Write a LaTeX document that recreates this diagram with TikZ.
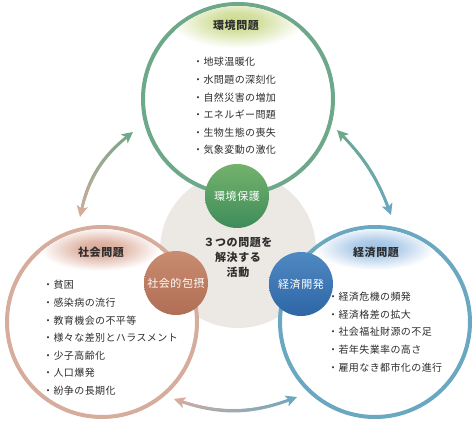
\documentclass[tikz,border=0pt]{standalone}
\usepackage{fontspec}
\usetikzlibrary{arrows.meta,decorations.markings}
\newfontfamily\jp[LetterSpace=5]{Noto Sans CJK JP}
\newfontfamily\jpitem[LetterSpace=4]{Noto Sans CJK JP}

\definecolor{txt}{HTML}{2E2E2E}
\definecolor{envring}{HTML}{6DA88A}
\definecolor{socring}{HTML}{D6AC9C}
\definecolor{ecoring}{HTML}{6AA8C2}
\definecolor{hubgray}{HTML}{ECE9E4}
\definecolor{envblob}{HTML}{C9D98A}
\definecolor{socblob}{HTML}{D9A593}
\definecolor{ecoblob}{HTML}{9CC0E4}
\definecolor{envtop}{HTML}{74B26C}
\definecolor{envbot}{HTML}{3E8C5B}
\definecolor{soctop}{HTML}{C98C70}
\definecolor{socbot}{HTML}{B06E55}
\definecolor{ecotop}{HTML}{4F89C2}
\definecolor{ecobot}{HTML}{2E66A6}

\pgfdeclareradialshading{envpatch}{\pgfpoint{0bp}{0bp}}{color(0bp)=(envblob); color(9bp)=(envblob!80!white); color(25bp)=(white); color(50bp)=(white)}
\pgfdeclareradialshading{socpatch}{\pgfpoint{0bp}{0bp}}{color(0bp)=(socblob); color(9bp)=(socblob!80!white); color(25bp)=(white); color(50bp)=(white)}
\pgfdeclareradialshading{ecopatch}{\pgfpoint{0bp}{0bp}}{color(0bp)=(ecoblob); color(9bp)=(ecoblob!80!white); color(25bp)=(white); color(50bp)=(white)}

\tikzset{
  ring/.style={circle, draw=#1, line width=4pt, fill=white, minimum size=190pt, inner sep=0pt},
  ball/.style 2 args={circle, minimum size=64pt, inner sep=0pt, top color=#1, bottom color=#2,
    text=white, font=\jp\fontsize{11}{13}\selectfont},
  head/.style={inner sep=0pt, text=txt, font=\jp\bfseries\fontsize{11}{13}\selectfont},
  item/.style={anchor=west, inner sep=0pt, text=txt, font=\jpitem\fontsize{10}{12}\selectfont},
  gradarrow/.style 2 args={line width=2.8pt, draw=#1!50!#2,
    arrows={Stealth[length=11pt,width=11pt,inset=2.5pt,color=#1]-Stealth[length=11pt,width=11pt,inset=2.5pt,color=#2]},
    postaction={decorate},
    decoration={markings, mark=between positions 8pt and -8pt step 0.6pt with {%
      \pgfmathtruncatemacro\mixval{100*\pgfkeysvalueof{/pgf/decoration/mark info/distance from start}/\pgfdecoratedpathlength}%
      \fill[#2!\mixval!#1] (0,0) circle (1.4pt);}}}
}

\begin{document}
\begin{tikzpicture}[x=1pt,y=-1pt]
  \useasboundingbox (0,0) rectangle (474,423);

  % centre disc and the three rings
  \node[circle, fill=hubgray, minimum size=156pt, inner sep=0pt] (hub) at (238,250) {};
  \node[ring=envring] (env) at (238,99) {};
  \node[ring=socring] (soc) at (102,322) {};
  \node[ring=ecoring] (eco) at (375,322) {};

  % soft header patches
  \begin{scope}
    \clip (env.center) circle (93pt);
    \shade[shading=envpatch] (237,22) ellipse [x radius=66pt, y radius=26pt];
  \end{scope}
  \begin{scope}
    \clip (soc.center) circle (93pt);
    \shade[shading=socpatch] (100,249) ellipse [x radius=60pt, y radius=22pt];
  \end{scope}
  \begin{scope}
    \clip (eco.center) circle (93pt);
    \shade[shading=ecopatch] (375,248) ellipse [x radius=60pt, y radius=22pt];
  \end{scope}

  \node[head] (envhead) at (236,25) {環境問題};
  \node[head] (sochead) at (101,252) {社会問題};
  \node[head] (ecohead) at (376,252) {経済問題};

  % lists
  \foreach \t [count=\i from 0] in {地球温暖化, 水問題の深刻化, 自然災害の増加, エネルギー問題, 生物生態の喪失, 気象変動の激化}
  {
  \node[item] (env\i) at (193,{62+17.6*\i}) {・\t};
  }
  \foreach \t [count=\i from 0] in {貧困, 感染病の流行, 教育機会の不平等, 様々な差別とハラスメント, 少子高齢化, 人口爆発, 紛争の長期化}
  {
  \node[item] (soc\i) at (43,{285+17.6*\i}) {・\t};
  }
  \foreach \t [count=\i from 0] in {経済危機の頻発, 経済格差の拡大, 社会福祉財源の不足, 若年失業率の高さ, 雇用なき都市化の進行}
  {
  \node[item] (eco\i) at (328,{297+17.6*\i}) {・\t};
  }

  % activities
  \node[ball={envtop}{envbot}] (envball) at (237,196) {環境保護};
  \node[ball={soctop}{socbot}] (socball) at (176,283) {社会的包摂};
  \node[ball={ecotop}{ecobot}] (ecoball) at (301,284) {経済開発};

  \node[align=center, text=txt, font=\jp\bfseries\fontsize{11}{15}\selectfont] (goal) at (238,258) {３つの問題を\\解決する\\活動};

  % arrows between the rings
  \coordinate (socup) at (80,217);
  \coordinate (envleft) at (133,132);
  \coordinate (envright) at (337,130);
  \coordinate (ecoup) at (391,215);
  \coordinate (socright) at (174,399);
  \coordinate (ecoleft) at (297,397);
  \draw[gradarrow={socring}{envring}] (socup) to[bend left=20] (envleft);
  \draw[gradarrow={envring}{ecoring}] (envright) to[bend left=12] (ecoup);
  \draw[gradarrow={socring}{ecoring}] (socright) to[bend right=20] (ecoleft);

\end{tikzpicture}
\end{document}
